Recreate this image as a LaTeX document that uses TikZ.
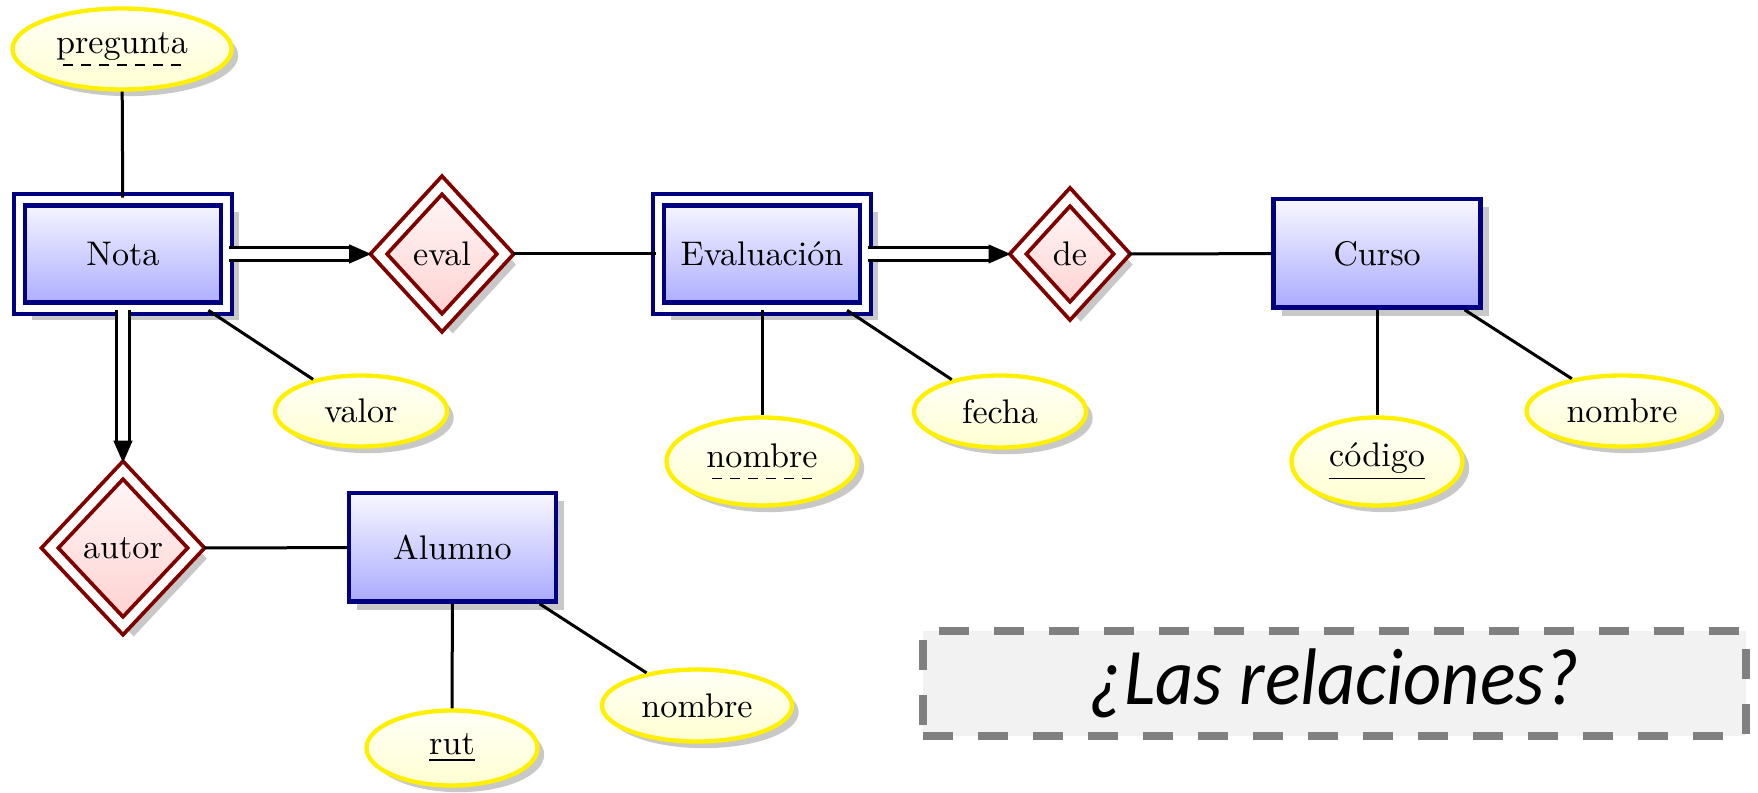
\documentclass[tikz,border=0pt]{standalone}
\usepackage{fontspec}
\newfontfamily\carlito{Carlito}
\usetikzlibrary{shapes.geometric,shadows,calc}
\newcommand\dashund[1]{\setbox0=\hbox{#1}\dp0=0pt\leavevmode\vtop{\hbox{\copy0}\nointerlineskip\kern3.2pt\hbox to \wd0{\cleaders\hbox{\kern1.2pt\vrule width 3pt height 0.45pt depth 0pt\kern1.2pt}\hfill}}}
\definecolor{entdraw}{RGB}{0,0,128}
\definecolor{reldraw}{RGB}{128,0,0}
\definecolor{enttop}{RGB}{248,248,255}
\definecolor{entbot}{RGB}{170,170,255}
\definecolor{reltop}{RGB}{255,248,248}
\definecolor{relbot}{RGB}{255,208,208}
\definecolor{atttop}{RGB}{255,255,248}
\definecolor{attbot}{RGB}{255,255,210}
\definecolor{attdraw}{RGB}{255,240,0}
\definecolor{shadowgray}{RGB}{200,200,200}
\definecolor{boxfill}{RGB}{242,242,242}
\definecolor{boxdraw}{RGB}{128,128,128}
\tikzset{
  shad/.style={drop shadow={shadow xshift=#1, shadow yshift=-#1, fill=shadowgray, opacity=1}},
  entitybox/.style={rectangle, draw=entdraw, line width=1.3pt, top color=enttop, bottom color=entbot,
    minimum width=62.1pt, minimum height=32.5pt, inner sep=0pt},
  entity/.style={entitybox, shad=2.4pt},
  weakentity/.style={entitybox, double=white, double distance=2.1pt, shad=3.6pt},
  relbox/.style={diamond, aspect=1, draw=reldraw, line width=1.15pt, double=white, double distance=2.5pt,
    top color=reltop, bottom color=relbot, inner sep=0pt, outer sep=1.6pt, shad=3.2pt},
  attr/.style={ellipse, draw=attdraw, line width=1.3pt, top color=atttop, bottom color=attbot,
    inner sep=0pt, shad=2pt},
  link/.style={line width=0.9pt},
  dblink/.style={double=white, double distance=2.9pt, line width=1pt, shorten >=6pt},
  notebox/.style={rectangle, draw=boxdraw, fill=boxfill, line width=2.2pt, dash pattern=on 9pt off 7.5pt,
    inner sep=0pt, font=\carlito\itshape\fontsize{22.3}{26}\selectfont}
}
\begin{document}
\begin{tikzpicture}[x=0.3pt, y=-0.3pt, font=\fontsize{10.24}{12.3}\selectfont]
\useasboundingbox (0,0) rectangle (1758,793);
% entities
\node[weakentity] (nota) at (123,254) {Nota};
\node[weakentity] (evaluacion) at (762,254) {Evaluación};
\node[entity] (curso) at (1377,253.5) {Curso};
\node[entity] (alumno) at (452.5,547.5) {Alumno};
% relationships
\node[relbox, minimum width=39.3pt, minimum height=42.6pt] (eval) at (442,254) {eval};
\node[relbox, minimum width=32.5pt, minimum height=35.5pt] (de) at (1070,254) {de};
\node[relbox, minimum width=45.2pt, minimum height=48pt] (autor) at (123,548) {autor};
% attributes
\node[attr, minimum width=65.7pt, minimum height=24.3pt] (pregunta) at (122,49) {\dashund{pregunta}};
\node[attr, minimum width=51.6pt, minimum height=21.3pt] (valor) at (361,411) {valor};
\node[attr, minimum width=57.3pt, minimum height=26.4pt] (nombreE) at (762,461.5) {\dashund{nombre}};
\node[attr, minimum width=51.6pt, minimum height=21.6pt] (fecha) at (1000,411.5) {fecha};
\node[attr, minimum width=51.3pt, minimum height=26.4pt] (codigo) at (1377,461.5) {\underline{código}};
\node[attr, minimum width=57.3pt, minimum height=21.3pt] (nombreC) at (1622,411) {nombre};
\node[attr, minimum width=51.3pt, minimum height=22.5pt] (rut) at (452,748) {\underline{rut}};
\node[attr, minimum width=57pt, minimum height=21.6pt] (nombreA) at (697,705.5) {nombre};
% note
\node[notebox, minimum width=246.9pt, minimum height=31.5pt] (q) at (1334.5,683.5) {\scalebox{1}[1.08]{¿Las relaciones?}};
% connectors
\draw[link] (pregunta) -- (nota);
\draw[link] (nota) -- (valor);
\draw[dblink] (nota) -- (eval.west);
\fill (eval.west) -- ++(-6.6pt,2.9pt) -- ++(0,-5.8pt) -- cycle;
\draw[link] (eval) -- (evaluacion);
\draw[link] (evaluacion) -- (nombreE);
\draw[link] (evaluacion) -- (fecha);
\draw[dblink] (evaluacion) -- (de.west);
\fill (de.west) -- ++(-6.6pt,2.9pt) -- ++(0,-5.8pt) -- cycle;
\draw[link] (de) -- (curso);
\draw[link] (curso) -- (codigo);
\draw[link] (curso) -- (nombreC);
\draw[dblink] (nota) -- (autor.north);
\fill (autor.north) -- ++(-2.9pt,6.6pt) -- ++(5.8pt,0) -- cycle;
\draw[link] (autor) -- (alumno);
\draw[link] (alumno) -- (rut);
\draw[link] (alumno) -- (nombreA);
\end{tikzpicture}
\end{document}
